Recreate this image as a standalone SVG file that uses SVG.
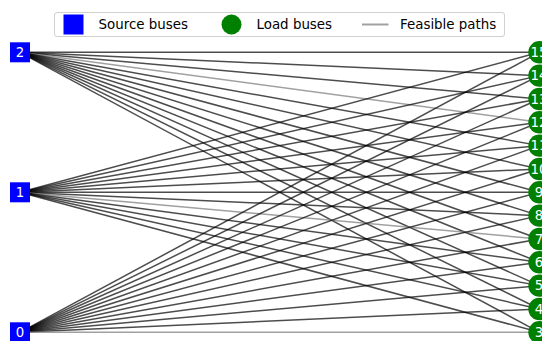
<svg xmlns="http://www.w3.org/2000/svg" width="542" height="341" viewBox="0 0 542 341">
<style>
.e{stroke:#000;stroke-opacity:0.7;stroke-width:1.5;fill:none}
.l{stroke:#808080;stroke-opacity:0.75;stroke-width:1.5;fill:none}
.src{fill:#0000ff}
.ld{fill:#008000}
.nt{font-family:"DejaVu Sans",sans-serif;font-size:13.3px;fill:#fff;text-anchor:middle}
.lt{font-family:"DejaVu Sans",sans-serif;font-size:13.4px;fill:#000}
</style>
<rect width="542" height="341" fill="#fff"/>
<g id="connectors">
<path class="e" d="M20 52.3L539.5 52.3"/>
<path class="e" d="M20 52.3L539.5 75.63"/>
<path class="e" d="M20 52.3L539.5 98.97"/>
<path class="l" d="M20 52.3L539.5 122.3"/>
<path class="e" d="M20 52.3L539.5 145.63"/>
<path class="e" d="M20 52.3L539.5 168.97"/>
<path class="e" d="M20 52.3L539.5 192.3"/>
<path class="e" d="M20 52.3L539.5 215.63"/>
<path class="e" d="M20 52.3L539.5 238.97"/>
<path class="e" d="M20 52.3L539.5 262.3"/>
<path class="e" d="M20 52.3L539.5 285.63"/>
<path class="e" d="M20 52.3L539.5 308.97"/>
<path class="e" d="M20 52.3L539.5 332.3"/>
<path class="e" d="M20 192.3L539.5 52.3"/>
<path class="e" d="M20 192.3L539.5 75.63"/>
<path class="e" d="M20 192.3L539.5 98.97"/>
<path class="e" d="M20 192.3L539.5 122.3"/>
<path class="e" d="M20 192.3L539.5 145.63"/>
<path class="e" d="M20 192.3L539.5 168.97"/>
<path class="e" d="M20 192.3L539.5 192.3"/>
<path class="e" d="M20 192.3L539.5 215.63"/>
<path class="l" d="M20 192.3L539.5 238.97"/>
<path class="e" d="M20 192.3L539.5 262.3"/>
<path class="e" d="M20 192.3L539.5 285.63"/>
<path class="e" d="M20 192.3L539.5 308.97"/>
<path class="e" d="M20 192.3L539.5 332.3"/>
<path class="e" d="M20 332.3L539.5 52.3"/>
<path class="e" d="M20 332.3L539.5 75.63"/>
<path class="e" d="M20 332.3L539.5 98.97"/>
<path class="e" d="M20 332.3L539.5 122.3"/>
<path class="e" d="M20 332.3L539.5 145.63"/>
<path class="e" d="M20 332.3L539.5 168.97"/>
<path class="e" d="M20 332.3L539.5 192.3"/>
<path class="e" d="M20 332.3L539.5 215.63"/>
<path class="e" d="M20 332.3L539.5 238.97"/>
<path class="e" d="M20 332.3L539.5 262.3"/>
<path class="e" d="M20 332.3L539.5 285.63"/>
<path class="e" d="M20 332.3L539.5 308.97"/>
<path class="l" d="M20 332.3L539.5 332.3"/>
</g>
<g id="n2"><rect class="src" x="10" y="42.3" width="20" height="20"/><text class="nt" x="20" y="57">2</text></g>
<g id="n1"><rect class="src" x="10" y="182.3" width="20" height="20"/><text class="nt" x="20" y="197">1</text></g>
<g id="n0"><rect class="src" x="10" y="322.3" width="20" height="20"/><text class="nt" x="20" y="337">0</text></g>
<g id="n15"><circle class="ld" cx="539.5" cy="52.3" r="11.2"/><text class="nt" x="539" y="57">15</text></g>
<g id="n14"><circle class="ld" cx="539.5" cy="75.63" r="11.2"/><text class="nt" x="539" y="80.3">14</text></g>
<g id="n13"><circle class="ld" cx="539.5" cy="98.97" r="11.2"/><text class="nt" x="539" y="103.7">13</text></g>
<g id="n12"><circle class="ld" cx="539.5" cy="122.3" r="11.2"/><text class="nt" x="539" y="127">12</text></g>
<g id="n11"><circle class="ld" cx="539.5" cy="145.63" r="11.2"/><text class="nt" x="539" y="150.3">11</text></g>
<g id="n10"><circle class="ld" cx="539.5" cy="168.97" r="11.2"/><text class="nt" x="539" y="173.7">10</text></g>
<g id="n9"><circle class="ld" cx="539.5" cy="192.3" r="11.2"/><text class="nt" x="539" y="197">9</text></g>
<g id="n8"><circle class="ld" cx="539.5" cy="215.63" r="11.2"/><text class="nt" x="539" y="220.3">8</text></g>
<g id="n7"><circle class="ld" cx="539.5" cy="238.97" r="11.2"/><text class="nt" x="539" y="243.7">7</text></g>
<g id="n6"><circle class="ld" cx="539.5" cy="262.3" r="11.2"/><text class="nt" x="539" y="267">6</text></g>
<g id="n5"><circle class="ld" cx="539.5" cy="285.63" r="11.2"/><text class="nt" x="539" y="290.3">5</text></g>
<g id="n4"><circle class="ld" cx="539.5" cy="308.97" r="11.2"/><text class="nt" x="539" y="313.7">4</text></g>
<g id="n3"><circle class="ld" cx="539.5" cy="332.3" r="11.2"/><text class="nt" x="539" y="337">3</text></g>
<g id="legend">
<rect x="54.5" y="12.5" width="450" height="24" rx="2.5" fill="#fff" fill-opacity="0.8" stroke="#d0d0d0" stroke-width="1"/>
<rect class="src" x="63.5" y="14.5" width="20" height="20"/>
<text class="lt" x="98.5" y="29.2">Source buses</text>
<circle class="ld" cx="231.5" cy="24.5" r="10"/>
<text class="lt" x="256.5" y="29.2">Load buses</text>
<path d="M362 24.5H388.5" stroke="#808080" stroke-opacity="0.75" stroke-width="2"/>
<text class="lt" x="400" y="29.2">Feasible paths</text>
</g>
</svg>
